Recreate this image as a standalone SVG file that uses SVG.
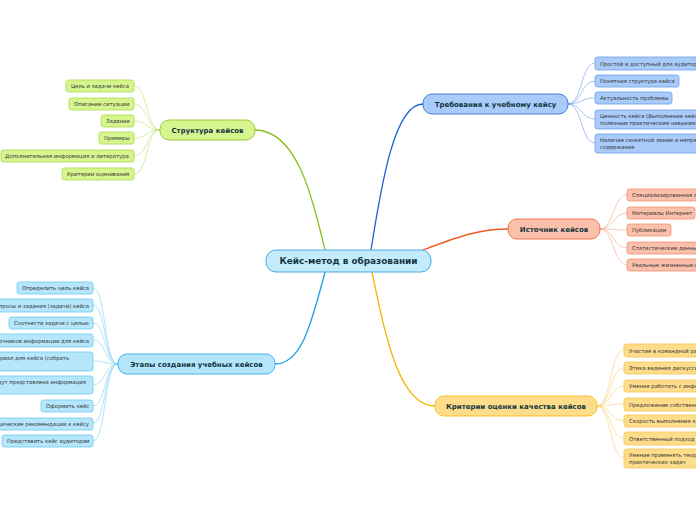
<svg xmlns="http://www.w3.org/2000/svg" width="696" height="520" viewBox="0 0 696 520">
<style>
text{font-family:"DejaVu Sans","Liberation Sans",sans-serif}
.lf{font-size:5.3px;fill:#333}
.mn{font-size:7px;font-weight:bold;fill:#12343f}
.ct{font-size:8.9px;font-weight:bold;fill:#12343f}
.c{fill:none;stroke-width:1.3}
.lc{fill:none;stroke-width:0.6}
.g rect{fill:#d6f58f;stroke:#a9dc4a;stroke-width:0.8}
.b rect{fill:#a8cbfa;stroke:#6a9fe6;stroke-width:0.8}
.o rect{fill:#fbc0ab;stroke:#f0906f;stroke-width:0.8}
.y rect{fill:#fddc8c;stroke:#f4c552;stroke-width:0.8}
.s rect{fill:#b5e6fc;stroke:#6ccaf0;stroke-width:0.8}
</style>
<g id="connectors">
<path class="c" stroke="#86c01c" d="M255,130 C300,130 315,210 325,250"/>
<path class="c" stroke="#1e66d4" d="M371,250 C382,180 395,104 423,104"/>
<path class="c" stroke="#ef5a24" d="M423,250 C460,236 480,229 508,229"/>
<path class="c" stroke="#f6b500" d="M372,272 C386,340 400,406 435,406"/>
<path class="c" stroke="#1ea2e2" d="M325,272 C310,330 300,364 275,364"/>
<g stroke="#b9e06a">
<path class="lc" d="M134,86 C148,86 146,130 160,130"/>
<path class="lc" d="M134,104 C148,104 146,130 160,130"/>
<path class="lc" d="M134,121 C148,121 146,130 160,130"/>
<path class="lc" d="M134,138 C148,138 146,130 160,130"/>
<path class="lc" d="M134,156 C148,156 146,130 160,130"/>
<path class="lc" d="M134,174 C148,174 146,130 160,130"/>
</g>
<g stroke="#6a9fe6">
<path class="lc" d="M568,104 C582,104 581,63 595,63"/>
<path class="lc" d="M568,104 C582,104 581,81 595,81"/>
<path class="lc" d="M568,104 C582,104 581,98 595,98"/>
<path class="lc" d="M568,104 C582,104 581,119 595,119"/>
<path class="lc" d="M568,104 C582,104 581,143 595,143"/>
</g>
<g stroke="#f5a58a">
<path class="lc" d="M600,229 C614,229 613,195 627,195"/>
<path class="lc" d="M600,229 C614,229 613,213 627,213"/>
<path class="lc" d="M600,229 C614,229 613,230 627,230"/>
<path class="lc" d="M600,229 C614,229 613,248 627,248"/>
<path class="lc" d="M600,229 C614,229 613,265 627,265"/>
</g>
<g stroke="#f8cf6a">
<path class="lc" d="M597,406 C611,406 610,350 624,350"/>
<path class="lc" d="M597,406 C611,406 610,368 624,368"/>
<path class="lc" d="M597,406 C611,406 610,386 624,386"/>
<path class="lc" d="M597,406 C611,406 610,404 624,404"/>
<path class="lc" d="M597,406 C611,406 610,421 624,421"/>
<path class="lc" d="M597,406 C611,406 610,438 624,438"/>
<path class="lc" d="M597,406 C611,406 610,458 624,458"/>
</g>
<g stroke="#7dd0f2">
<path class="lc" d="M93,288 C106,288 104,364 118,364"/>
<path class="lc" d="M93,305 C106,305 104,364 118,364"/>
<path class="lc" d="M93,323 C106,323 104,364 118,364"/>
<path class="lc" d="M93,340 C106,340 104,364 118,364"/>
<path class="lc" d="M93,361 C106,361 104,364 118,364"/>
<path class="lc" d="M93,385 C106,385 104,364 118,364"/>
<path class="lc" d="M93,406 C106,406 104,364 118,364"/>
<path class="lc" d="M93,423 C106,423 104,364 118,364"/>
<path class="lc" d="M93,441 C106,441 104,364 118,364"/>
</g>
</g>
<g id="center">
<rect x="266" y="250" width="165" height="22" rx="10" fill="#c4ebfc" stroke="#4fa8de" stroke-width="1"/>
<text class="ct" x="348.5" y="264.2" text-anchor="middle">Кейс-метод в образовании</text>
</g>
<g id="structure" class="g">
<rect x="160" y="120" width="95" height="20" rx="9" stroke-width="1.1" style="stroke:#86c01c"/>
<text class="mn" x="207.5" y="132.5" text-anchor="middle">Структура кейсов</text>
<g id="s1"><rect x="66" y="80" width="68" height="12" rx="2.5"/><text class="lf" x="71" y="88">Цель и задачи кейса</text></g>
<g id="s2"><rect x="69" y="98" width="65" height="12" rx="2.5"/><text class="lf" x="74" y="106">Описание ситуации</text></g>
<g id="s3"><rect x="101" y="115" width="33" height="12" rx="2.5"/><text class="lf" x="106" y="123">Задание</text></g>
<g id="s4"><rect x="99" y="132" width="35" height="12" rx="2.5"/><text class="lf" x="104" y="140">Примеры</text></g>
<g id="s5"><rect x="1" y="150" width="133" height="12" rx="2.5"/><text class="lf" x="5" y="158">Дополнительная информация и литература</text></g>
<g id="s6"><rect x="62" y="168" width="72" height="12" rx="2.5"/><text class="lf" x="67" y="176">Критерии оценивания</text></g>
</g>
<g id="requirements" class="b">
<rect x="423" y="94" width="145" height="20" rx="9" stroke-width="1.1" style="stroke:#1e66d4"/>
<text class="mn" x="495.5" y="106.5" text-anchor="middle">Требования к учебному кейсу</text>
<g id="r1"><rect x="595" y="57" width="130" height="13" rx="2.5"/><text class="lf" x="600" y="65.5">Простой и доступный для аудитории язык</text></g>
<g id="r2"><rect x="595" y="75" width="84" height="12" rx="2.5"/><text class="lf" x="600" y="83">Понятная структура кейса</text></g>
<g id="r3"><rect x="595" y="92" width="77" height="12" rx="2.5"/><text class="lf" x="600" y="100">Актуальность проблемы</text></g>
<g id="r4"><rect x="595" y="110" width="130" height="19" rx="2.5"/><text class="lf" x="600" y="118">Ценность кейса (Выполнение кейса</text><text class="lf" x="600" y="125">полезным практическим навыкам)</text></g>
<g id="r5"><rect x="595" y="134" width="130" height="19" rx="2.5"/><text class="lf" x="600" y="142">Наличие сюжетной линии и непрерывность</text><text class="lf" x="600" y="149">содержания</text></g>
</g>
<g id="sources" class="o">
<rect x="508" y="219" width="92" height="20" rx="9" stroke-width="1.1" style="stroke:#ef5a24"/>
<text class="mn" x="554" y="231.5" text-anchor="middle">Источник кейсов</text>
<g id="o1"><rect x="627" y="189" width="120" height="12" rx="2.5"/><text class="lf" x="632" y="197">Специализированная литература</text></g>
<g id="o2"><rect x="627" y="207" width="68" height="12" rx="2.5"/><text class="lf" x="632" y="215">Материалы Интернет</text></g>
<g id="o3"><rect x="627" y="224" width="44" height="12" rx="2.5"/><text class="lf" x="632" y="232">Публикации</text></g>
<g id="o4"><rect x="627" y="242" width="120" height="12" rx="2.5"/><text class="lf" x="632" y="250">Статистические данные</text></g>
<g id="o5"><rect x="627" y="259" width="120" height="12" rx="2.5"/><text class="lf" x="632" y="267">Реальные жизненные ситуации</text></g>
</g>
<g id="criteria" class="y">
<rect x="435" y="396" width="162" height="20" rx="9" stroke-width="1.1" style="stroke:#f6b500"/>
<text class="mn" x="516" y="408.5" text-anchor="middle">Критерии оценки качества кейсов</text>
<g id="k1"><rect x="624" y="344" width="120" height="13" rx="2.5"/><text class="lf" x="629" y="352.5">Участие в командной работе</text></g>
<g id="k2"><rect x="624" y="362" width="120" height="12" rx="2.5"/><text class="lf" x="629" y="370">Этика ведения дискуссии</text></g>
<g id="k3"><rect x="624" y="380" width="120" height="12" rx="2.5"/><text class="lf" x="629" y="388">Умение работать с информацией</text></g>
<g id="k4"><rect x="624" y="398" width="120" height="13" rx="2.5"/><text class="lf" x="629" y="406.5">Предложение собственных решений</text></g>
<g id="k5"><rect x="624" y="415" width="120" height="12" rx="2.5"/><text class="lf" x="629" y="423">Скорость выполнения кейса</text></g>
<g id="k6"><rect x="624" y="432" width="120" height="13" rx="2.5"/><text class="lf" x="629" y="440.5">Ответственный подход к работе</text></g>
<g id="k7"><rect x="624" y="449" width="120" height="19" rx="2.5"/><text class="lf" x="629" y="457">Умение применять теоретические знания</text><text class="lf" x="629" y="464">практических задач</text></g>
</g>
<g id="stages" class="s">
<rect x="118" y="354" width="157" height="20" rx="9" stroke-width="1.1" style="stroke:#1ea2e2"/>
<text class="mn" x="196.5" y="366.5" text-anchor="middle">Этапы создания учебных кейсов</text>
<g id="e1"><rect x="17" y="282" width="76" height="12" rx="2.5"/><text class="lf" x="22" y="290">Определить цель кейса</text></g>
<g id="e2"><rect x="-80" y="299" width="173" height="13" rx="2.5"/><text class="lf" x="89" y="307.5" text-anchor="end">Сформулировать вопросы и задания (задачи) кейса</text></g>
<g id="e3"><rect x="9" y="317" width="84" height="12" rx="2.5"/><text class="lf" x="14" y="325">Соотнести задачи с целью</text></g>
<g id="e4"><rect x="-80" y="334" width="173" height="13" rx="2.5"/><text class="lf" x="89" y="342.5" text-anchor="end">Определить круг источников информации для кейса</text></g>
<g id="e5"><rect x="-80" y="352" width="173" height="19" rx="2.5"/><text class="lf" x="69" y="360" text-anchor="end">Подобрать материал для кейса (собрать</text></g>
<g id="e6"><rect x="-80" y="376" width="173" height="18" rx="2.5"/><text class="lf" x="86" y="384" text-anchor="end">Определить, в каком виде будут представлена информация</text></g>
<g id="e7"><rect x="41" y="400" width="52" height="12" rx="2.5"/><text class="lf" x="46" y="408">Оформить кейс</text></g>
<g id="e8"><rect x="-80" y="418" width="173" height="12" rx="2.5"/><text class="lf" x="89" y="426" text-anchor="end">Подготовить методические рекомендации к кейсу</text></g>
<g id="e9"><rect x="2" y="435" width="91" height="12" rx="2.5"/><text class="lf" x="7" y="443">Представить кейс аудитории</text></g>
</g>
</svg>
